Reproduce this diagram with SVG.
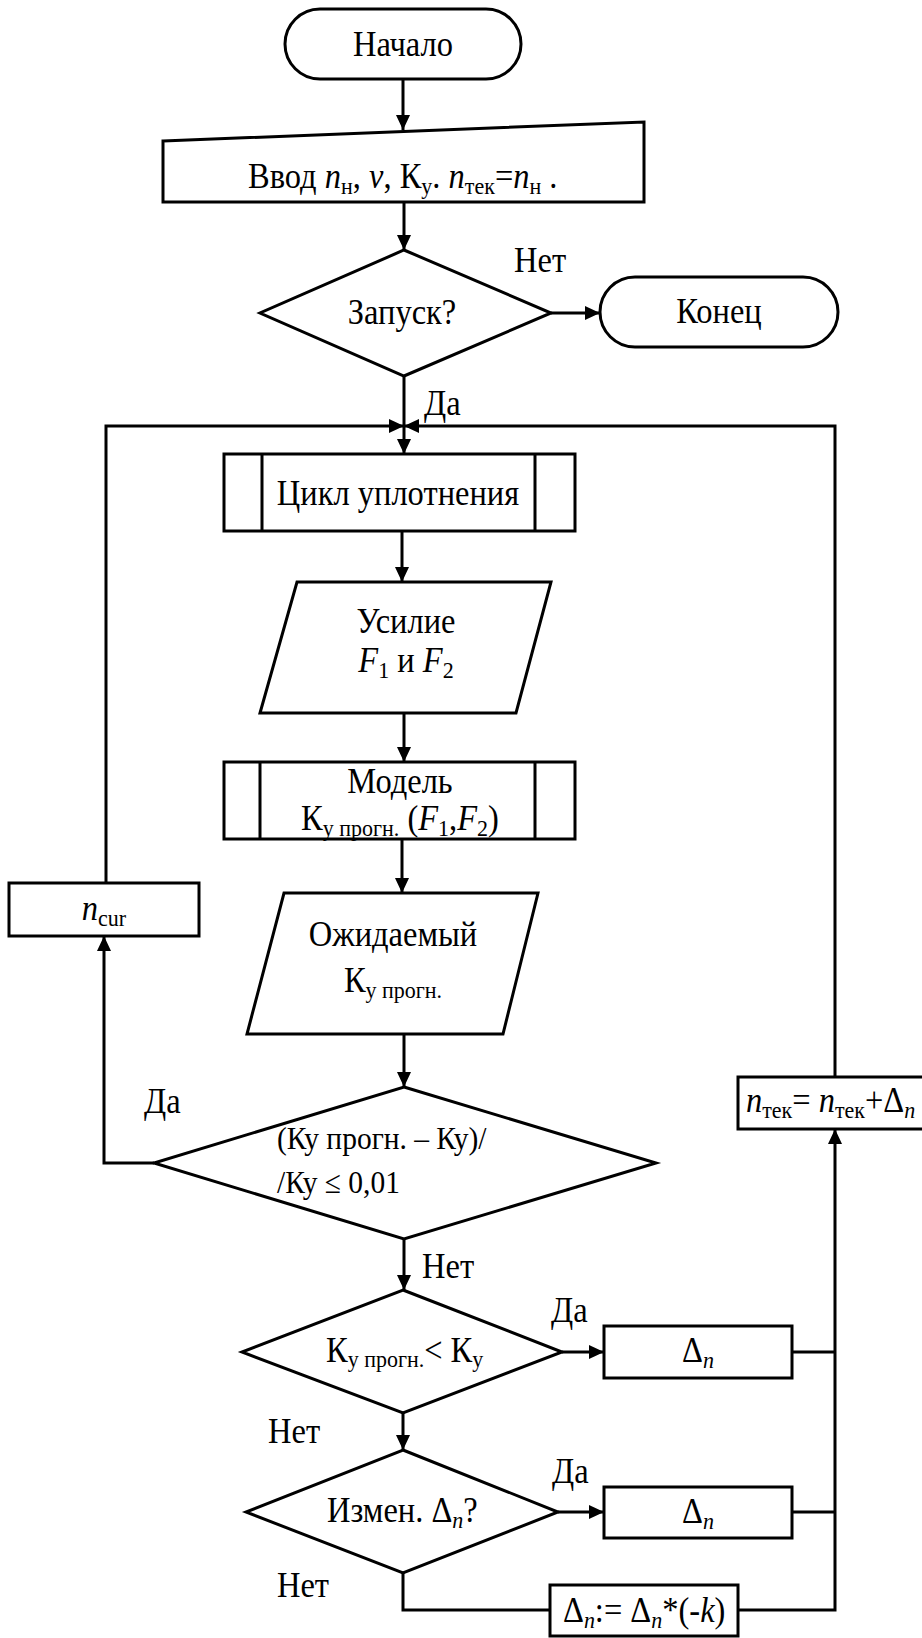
<svg xmlns="http://www.w3.org/2000/svg" width="922" height="1638" viewBox="0 0 922 1638">
<style>
.s{fill:#fff;stroke:#000;stroke-width:3}
.l{fill:none;stroke:#000;stroke-width:3}
.t{font-family:'Liberation Serif',Tinos,'Times New Roman','DejaVu Serif',serif;font-size:32.5px;fill:#000}
.f{font-size:29.5px}
.c{text-anchor:middle}
.i{font-style:italic}
.sb{font-size:22px}
</style>
<defs>
<marker id="a" markerUnits="userSpaceOnUse" markerWidth="16" markerHeight="14" refX="15" refY="7" orient="auto">
<path d="M0,0 L15,7 L0,14 Z" fill="#000"/>
</marker>
</defs>
<rect width="922" height="1638" fill="#fff"/>
<g id="connectors">
<path class="l" d="M403,79 V130" marker-end="url(#a)"/>
<path class="l" d="M404,202 V250" marker-end="url(#a)"/>
<path class="l" d="M551,313 H600" marker-end="url(#a)"/>
<path class="l" d="M404,376 V454" marker-end="url(#a)"/>
<path class="l" d="M106,883 V426 H404" marker-end="url(#a)"/>
<path class="l" d="M835,1077 V426 H404" marker-end="url(#a)"/>
<path class="l" d="M402,531 V582" marker-end="url(#a)"/>
<path class="l" d="M404,713 V762" marker-end="url(#a)"/>
<path class="l" d="M402,839 V893" marker-end="url(#a)"/>
<path class="l" d="M404,1034 V1087" marker-end="url(#a)"/>
<path class="l" d="M154,1163 H104 V936" marker-end="url(#a)"/>
<path class="l" d="M404,1239 V1290" marker-end="url(#a)"/>
<path class="l" d="M562,1352 H604" marker-end="url(#a)"/>
<path class="l" d="M792,1352 H835"/>
<path class="l" d="M403,1413 V1450" marker-end="url(#a)"/>
<path class="l" d="M558,1512 H604" marker-end="url(#a)"/>
<path class="l" d="M792,1512 H835"/>
<path class="l" d="M403,1573 V1610 H550"/>
<path class="l" d="M738,1610 H835 V1129" marker-end="url(#a)"/>
</g>
<g id="labels">
<text class="t" x="514" y="0" transform="translate(0,272) scale(1,1.08)">Нет</text>
<text class="t" x="424" y="0" transform="translate(0,415) scale(1,1.08)">Да</text>
<text class="t" x="144" y="0" transform="translate(0,1113) scale(1,1.08)">Да</text>
<text class="t" x="422" y="0" transform="translate(0,1278) scale(1,1.08)">Нет</text>
<text class="t" x="551" y="0" transform="translate(0,1322) scale(1,1.08)">Да</text>
<text class="t" x="268" y="0" transform="translate(0,1443) scale(1,1.08)">Нет</text>
<text class="t" x="552" y="0" transform="translate(0,1483) scale(1,1.08)">Да</text>
<text class="t" x="277" y="0" transform="translate(0,1597) scale(1,1.08)">Нет</text>
</g>
<g id="start">
<rect class="s" x="285" y="9" width="236" height="70" rx="35"/>
<text class="t c" x="403" y="0" transform="translate(0,56) scale(1,1.08)">Начало</text>
</g>
<g id="input">
<polygon class="s" points="163,141 644,122 644,202 163,202"/>
<text class="t" x="248" y="0" transform="translate(0,188) scale(1,1.08)">Ввод <tspan class="i">n</tspan><tspan class="sb" dy="6">н</tspan><tspan dy="-6">, </tspan><tspan class="i">v</tspan>, К<tspan class="sb" dy="6">у</tspan><tspan dy="-6">. </tspan><tspan class="i">n</tspan><tspan class="sb" dy="6">тек</tspan><tspan dy="-6">=</tspan><tspan class="i">n</tspan><tspan class="sb" dy="6">н</tspan><tspan dy="-6"> .</tspan></text>
</g>
<g id="launch">
<polygon class="s" points="404,250 551,313 404,376 260,313"/>
<text class="t c" x="402" y="0" transform="translate(0,324) scale(1,1.08)">Запуск?</text>
</g>
<g id="end">
<rect class="s" x="600" y="277" width="238" height="70" rx="35"/>
<text class="t c" x="719" y="0" transform="translate(0,323) scale(1,1.08)">Конец</text>
</g>
<g id="cycle">
<rect class="s" x="224" y="454" width="351" height="77"/>
<path class="l" d="M262,454 V531 M535,454 V531"/>
<text class="t c" x="398" y="0" transform="translate(0,505) scale(1,1.08)">Цикл уплотнения</text>
</g>
<g id="force">
<polygon class="s" points="297,582 551,582 516,713 260,713"/>
<text class="t c" x="406" y="0" transform="translate(0,633) scale(1,1.08)">Усилие</text>
<text class="t c" x="406" y="0" transform="translate(0,672) scale(1,1.08)"><tspan class="i">F</tspan><tspan class="sb" dy="6">1</tspan><tspan dy="-6"> и </tspan><tspan class="i">F</tspan><tspan class="sb" dy="6">2</tspan></text>
</g>
<g id="model">
<rect class="s" x="224" y="762" width="351" height="77"/>
<path class="l" d="M260,762 V839 M535,762 V839"/>
<text class="t c" x="400" y="0" transform="translate(0,793) scale(1,1.08)">Модель</text>
<text class="t c" x="400" y="0" transform="translate(0,830) scale(1,1.08)">К<tspan class="sb" dy="6">у прогн.</tspan><tspan dy="-6"> (</tspan><tspan class="i">F</tspan><tspan class="sb" dy="6">1</tspan><tspan dy="-6">,</tspan><tspan class="i">F</tspan><tspan class="sb" dy="6">2</tspan><tspan dy="-6">)</tspan></text>
</g>
<g id="expected">
<polygon class="s" points="284,893 538,893 503,1034 247,1034"/>
<text class="t c" x="393" y="0" transform="translate(0,946) scale(1,1.08)">Ожидаемый</text>
<text class="t c" x="393" y="0" transform="translate(0,992) scale(1,1.08)">К<tspan class="sb" dy="6">у прогн.</tspan></text>
</g>
<g id="check">
<polygon class="s" points="404,1087 656,1163 404,1239 154,1163"/>
<text class="t f" x="277" y="0" transform="translate(0,1149) scale(1,1.08)">(Ку прогн. – Ку)/</text>
<text class="t f" x="277" y="0" transform="translate(0,1193) scale(1,1.08)">/Ку ≤ 0,01</text>
</g>
<g id="ncur">
<rect class="s" x="9" y="883" width="190" height="53"/>
<text class="t c" x="104" y="0" transform="translate(0,920) scale(1,1.08)"><tspan class="i">n</tspan><tspan class="sb" dy="6">cur</tspan></text>
</g>
<g id="ntek">
<rect class="s" x="738" y="1077" width="200" height="52"/>
<text class="t" x="746" y="0" transform="translate(0,1112) scale(1,1.08)"><tspan class="i">n</tspan><tspan class="sb" dy="6">тек</tspan><tspan dy="-6">= </tspan><tspan class="i">n</tspan><tspan class="sb" dy="6">тек</tspan><tspan dy="-6">+Δ</tspan><tspan class="i sb" dy="6">n</tspan></text>
</g>
<g id="less">
<polygon class="s" points="403,1290 562,1352 403,1413 242,1352"/>
<text class="t" x="326" y="0" transform="translate(0,1362) scale(1,1.08)">К<tspan class="sb" dy="5">у прогн.</tspan><tspan dy="-5">&lt; К</tspan><tspan class="sb" dy="5">у</tspan></text>
</g>
<g id="delta1">
<rect class="s" x="604" y="1326" width="188" height="52"/>
<text class="t c" x="698" y="0" transform="translate(0,1362) scale(1,1.08)">Δ<tspan class="i sb" dy="6">n</tspan></text>
</g>
<g id="change">
<polygon class="s" points="403,1450 558,1512 403,1573 246,1512"/>
<text class="t" x="327" y="0" transform="translate(0,1522) scale(1,1.08)">Измен. Δ<tspan class="i sb" dy="6">n</tspan><tspan dy="-6">?</tspan></text>
</g>
<g id="delta2">
<rect class="s" x="604" y="1487" width="188" height="51"/>
<text class="t c" x="698" y="0" transform="translate(0,1523) scale(1,1.08)">Δ<tspan class="i sb" dy="6">n</tspan></text>
</g>
<g id="negate">
<rect class="s" x="550" y="1585" width="188" height="51"/>
<text class="t" x="563" y="0" transform="translate(0,1622) scale(1,1.08)">Δ<tspan class="i sb" dy="6">n</tspan><tspan dy="-6">:= Δ</tspan><tspan class="i sb" dy="6">n</tspan><tspan dy="-6">*(-</tspan><tspan class="i">k</tspan>)</text>
</g>
</svg>
